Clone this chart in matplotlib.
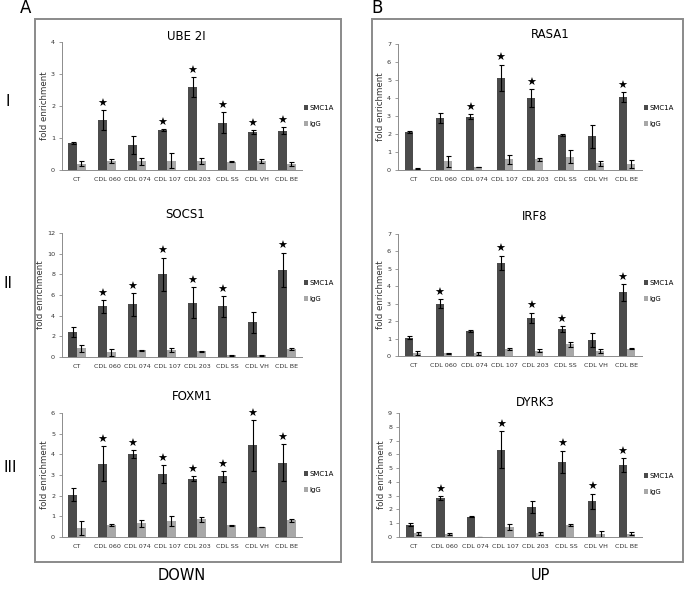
import matplotlib
matplotlib.use("Agg")
import matplotlib.pyplot as plt
from matplotlib.patches import Rectangle
import numpy as np

W, H = 685, 590

cells = ["CT", "CDL 060", "CDL 074", "CDL 107", "CDL 203", "CDL SS", "CDL VH", "CDL BE"]

# UBE 2I
ube_smc = [0.85, 1.56, 0.77, 1.25, 2.59, 1.48, 1.19, 1.23]
ube_smc_err = [0.03, 0.31, 0.28, 0.03, 0.32, 0.32, 0.05, 0.11]
ube_igg = [0.20, 0.28, 0.27, 0.29, 0.28, 0.26, 0.28, 0.18]
ube_igg_err = [0.07, 0.05, 0.12, 0.23, 0.08, 0.02, 0.05, 0.07]
ube_star = [0, 1, 0, 1, 1, 1, 1, 1]

# SOCS1
socs_smc = [2.45, 4.9, 5.1, 8.0, 5.25, 4.9, 3.35, 8.45]
socs_smc_err = [0.5, 0.6, 1.1, 1.6, 1.5, 1.0, 1.0, 1.65]
socs_igg = [0.85, 0.45, 0.65, 0.65, 0.55, 0.15, 0.15, 0.8]
socs_igg_err = [0.35, 0.35, 0.05, 0.2, 0.05, 0.05, 0.05, 0.1]
socs_star = [0, 1, 1, 1, 1, 1, 0, 1]

# FOXM1
foxm_smc = [2.05, 3.55, 4.0, 3.05, 2.82, 2.93, 4.43, 3.6]
foxm_smc_err = [0.3, 0.85, 0.2, 0.42, 0.12, 0.25, 1.22, 0.88]
foxm_igg = [0.43, 0.6, 0.67, 0.77, 0.87, 0.57, 0.48, 0.8]
foxm_igg_err = [0.33, 0.05, 0.17, 0.23, 0.12, 0.02, 0.02, 0.05]
foxm_star = [0, 1, 1, 1, 1, 1, 1, 1]

# RASA1
rasa_smc = [2.12, 2.9, 2.97, 5.13, 4.0, 1.95, 1.87, 4.05]
rasa_smc_err = [0.07, 0.28, 0.14, 0.72, 0.5, 0.07, 0.65, 0.28]
rasa_igg = [0.07, 0.48, 0.17, 0.6, 0.6, 0.75, 0.37, 0.35]
rasa_igg_err = [0.02, 0.32, 0.02, 0.25, 0.08, 0.35, 0.13, 0.22]
rasa_star = [0, 0, 1, 1, 1, 0, 0, 1]

# IRF8
irf_smc = [1.05, 3.0, 1.42, 5.35, 2.2, 1.55, 0.92, 3.65]
irf_smc_err = [0.1, 0.25, 0.07, 0.4, 0.28, 0.18, 0.38, 0.48]
irf_igg = [0.15, 0.15, 0.15, 0.42, 0.3, 0.68, 0.3, 0.42]
irf_igg_err = [0.12, 0.05, 0.1, 0.05, 0.08, 0.15, 0.12, 0.03]
irf_star = [0, 1, 0, 1, 1, 1, 0, 1]

# DYRK3
dyrk_smc = [0.9, 2.8, 1.47, 6.35, 2.18, 5.47, 2.6, 5.22]
dyrk_smc_err = [0.08, 0.15, 0.03, 1.35, 0.42, 0.8, 0.55, 0.5]
dyrk_igg = [0.27, 0.2, 0.0, 0.7, 0.27, 0.9, 0.25, 0.25]
dyrk_igg_err = [0.12, 0.08, 0.0, 0.22, 0.1, 0.07, 0.22, 0.1]
dyrk_star = [0, 1, 0, 1, 0, 1, 1, 1]

DARK = "#4b4b4b"
LIGHT = "#a8a8a8"
AXC = "#8c8c8c"


def px(x, y):
    return x / W, 1 - y / H


fig = plt.figure(figsize=(W / 100, H / 100), dpi=100)

# panel boxes
for x0, x1 in [(35, 341), (372, 683)]:
    fig.patches.append(Rectangle(px(x0, 562), (x1 - x0) / W, (562 - 19) / H,
                                 transform=fig.transFigure, fill=False,
                                 edgecolor="#8a8a8a", linewidth=1.4))

# (name, smc, err, igg, err, stars, ymax, step, axes px box, title xy, legend xy, barwidth)
panels = [
    ("UBE 2I", ube_smc, ube_smc_err, ube_igg, ube_igg_err, ube_star, 4, 1,
     (62, 42, 302, 170), (186, 37), (304, 109), 0.29),
    ("SOCS1", socs_smc, socs_smc_err, socs_igg, socs_igg_err, socs_star, 12, 2,
     (62, 233, 302, 357), (185, 215), (304, 284), 0.29),
    ("FOXM1", foxm_smc, foxm_smc_err, foxm_igg, foxm_igg_err, foxm_star, 6, 1,
     (62, 413, 302, 537), (192, 397), (304, 475), 0.29),
    ("RASA1", rasa_smc, rasa_smc_err, rasa_igg, rasa_igg_err, rasa_star, 7, 1,
     (398, 44, 642, 170), (550, 35), (644, 109), 0.27),
    ("IRF8", irf_smc, irf_smc_err, irf_igg, irf_igg_err, irf_star, 7, 1,
     (398, 234, 642, 356), (535, 217), (644, 284), 0.27),
    ("DYRK3", dyrk_smc, dyrk_smc_err, dyrk_igg, dyrk_igg_err, dyrk_star, 9, 1,
     (399, 413, 642, 537), (535, 402), (644, 477), 0.27),
]

x = np.arange(len(cells))
for name, smc, smc_e, igg, igg_e, star, ymax, step, box, tpos, lpos, bw in panels:
    x0, y0, x1, y1 = box
    ax = fig.add_axes([x0 / W, 1 - y1 / H, (x1 - x0) / W, (y1 - y0) / H])
    ek = dict(ecolor="black", elinewidth=0.8, capsize=1.8, capthick=0.8)
    ax.bar(x - bw / 2, smc, bw, yerr=smc_e, color=DARK, label="SMC1A", error_kw=ek)
    ax.bar(x + bw / 2, igg, bw, yerr=[np.minimum(igg, igg_e), igg_e], color=LIGHT,
           label="IgG", error_kw=ek)
    for i in range(len(cells)):
        if star[i]:
            ax.annotate("★", (x[i] - bw / 2, smc[i] + smc_e[i]), xytext=(0, 1),
                        textcoords="offset points", ha="center", va="bottom",
                        fontsize=8, color="black")
    ax.set_xlim(-0.5, len(cells) - 0.5)
    ax.set_ylim(0, ymax)
    ax.set_yticks(np.arange(0, ymax + 0.01, step))
    ax.set_xticks(x)
    ax.set_xticklabels(cells)
    ax.tick_params(axis="x", length=0, labelsize=4.6, pad=5, colors="#333333")
    ax.tick_params(axis="y", length=2, width=0.6, labelsize=4.6, pad=3,
                   colors="#333333")
    ax.tick_params(axis="both", color=AXC)
    for s in ["top", "right"]:
        ax.spines[s].set_visible(False)
    for s in ["left", "bottom"]:
        ax.spines[s].set_color(AXC)
        ax.spines[s].set_linewidth(0.7)
    ax.set_ylabel("fold enrichment", fontsize=6.2, color="#333333", labelpad=1.5)
    fig.text(*px(*tpos), name, ha="center", va="center", fontsize=8.5)
    ax.legend(loc="center left", bbox_to_anchor=px(lpos[0], lpos[1] + 7),
              bbox_transform=fig.transFigure, frameon=False, fontsize=5,
              handlelength=0.6, handleheight=0.6, handletextpad=0.2,
              labelspacing=1.4, borderpad=0, borderaxespad=0)

fig.text(*px(26, 8), "A", ha="center", va="center", fontsize=12)
fig.text(*px(377, 8), "B", ha="center", va="center", fontsize=12)
fig.text(*px(8, 101), "I", ha="center", va="center", fontsize=11)
fig.text(*px(8, 284), "II", ha="center", va="center", fontsize=11)
fig.text(*px(10, 468), "III", ha="center", va="center", fontsize=11)
fig.text(*px(182, 576), "DOWN", ha="center", va="center", fontsize=10.5)
fig.text(*px(540, 576), "UP", ha="center", va="center", fontsize=10.5)

fig.savefig("out.png", dpi=100)
